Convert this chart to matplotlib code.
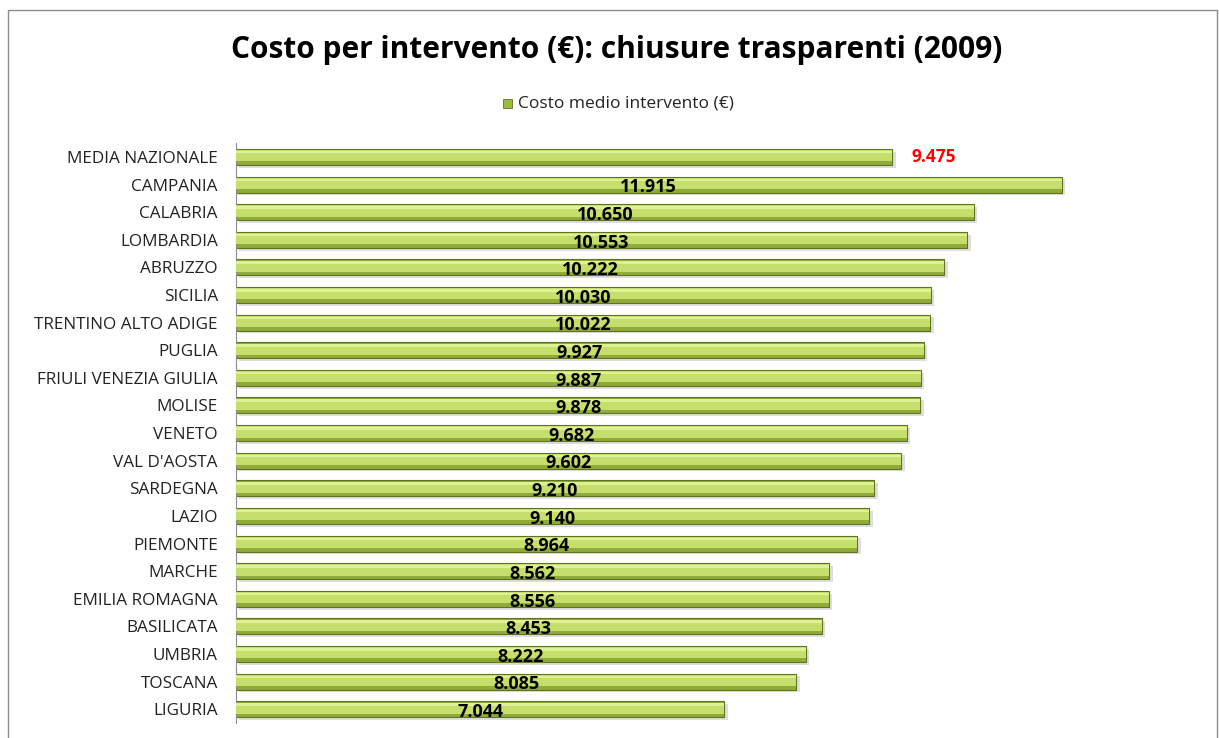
import numpy as np
import matplotlib.pyplot as plt
from matplotlib.patches import Rectangle

regions = ["MEDIA NAZIONALE", "CAMPANIA", "CALABRIA", "LOMBARDIA", "ABRUZZO", "SICILIA",
           "TRENTINO ALTO ADIGE", "PUGLIA", "FRIULI VENEZIA GIULIA", "MOLISE", "VENETO",
           "VAL D'AOSTA", "SARDEGNA", "LAZIO", "PIEMONTE", "MARCHE", "EMILIA ROMAGNA",
           "BASILICATA", "UMBRIA", "TOSCANA", "LIGURIA"]
costs = [9475, 11915, 10650, 10553, 10222, 10030, 10022, 9927, 9887, 9878, 9682,
         9602, 9210, 9140, 8964, 8562, 8556, 8453, 8222, 8085, 7044]

plt.rcParams['font.family'] = ['Open Sans', 'DejaVu Sans']

fig = plt.figure(figsize=(12.19, 7.38), dpi=100)
# outer chart border
fig.patches.append(Rectangle((8 / 1219, -0.05), (1217 - 8) / 1219, 1 - 10 / 738 + 0.05,
                             transform=fig.transFigure, fill=False,
                             edgecolor='#8c8c8c', linewidth=1.0))

ax = fig.add_axes([236 / 1219, 0.0203, (1206 - 236) / 1219, 0.7858])

def fmt(v):
    return f"{v:,}".replace(",", ".")

y = np.arange(len(regions))
h = 0.58
# shadow, base and highlight bands to mimic the bevelled Excel bars
ax.barh(y + 0.1, costs, height=h, left=50, color='#dedede', zorder=1)
ax.barh(y, costs, height=h, color='#8fab38', edgecolor='#5e7423', linewidth=0.8, zorder=2)
ax.barh(y - 0.04, costs, height=h * 0.7, color='#c6df6c', linewidth=0, zorder=3)
ax.barh(y - 0.17, costs, height=h * 0.16, color='#def195', linewidth=0, zorder=4)

for i, v in enumerate(costs):
    if i == 0:
        ax.text(v + 280, i, fmt(v), color='#ff0000', fontsize=12.5, fontweight='bold',
                va='center', ha='left', zorder=5)
    else:
        ax.text(v / 2, i + 0.1, fmt(v), color='black', fontsize=13, fontweight='bold',
                va='center', ha='center', zorder=5)

ax.set_xlim(0, 14000)
ax.set_ylim(len(regions) - 0.5, -0.5)
ax.set_yticks(y)
ax.set_yticklabels(regions, fontsize=12.3, color='#222222')
ax.tick_params(axis='y', length=0, pad=13)
ax.set_xticks([])
for s in ['top', 'right', 'bottom']:
    ax.spines[s].set_visible(False)
ax.spines['left'].set_color('#8c8c8c')

fig.text(617 / 1219, 1 - 50 / 738, "Costo per intervento (€): chiusure trasparenti (2009)",
         ha='center', va='center', fontsize=21.5, fontweight='bold')

# legend
fig.patches.append(Rectangle((503 / 1219, 1 - 108 / 738), 9 / 1219, 9 / 738,
                             transform=fig.transFigure, facecolor='#9cbd3e',
                             edgecolor='#5e7423', linewidth=0.6))
fig.text(518 / 1219, 1 - 103 / 738, "Costo medio intervento (€)", ha='left', va='center',
         fontsize=12.5, color='#222222')

fig.savefig("out.png", dpi=100)
